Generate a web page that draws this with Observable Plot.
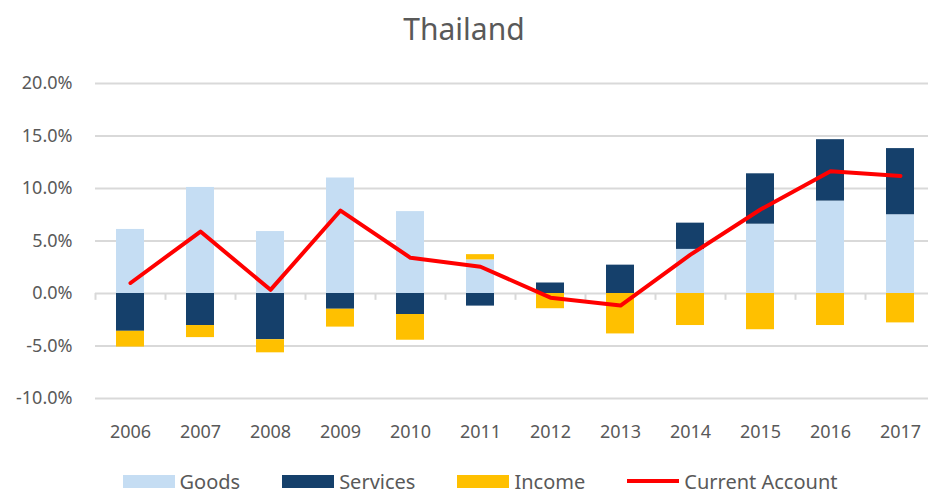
<!DOCTYPE html>
<html>
<head>
<meta charset="utf-8">
<script src="https://cdn.jsdelivr.net/npm/d3@7"></script>
<script src="https://cdn.jsdelivr.net/npm/@observablehq/plot@0.6"></script>
<style>
  body { margin: 0; background: #fff; font-family: "Noto Sans", sans-serif; color: #595959; width: 928px; overflow: hidden; }
  #title { height: 56px; line-height: 58px; text-align: center; font-size: 30px; color: #595959; }
  #legend { display: flex; justify-content: center; align-items: center; padding-left: 32px; padding-top: 10px; height: 30px; font-size: 20px; color: #595959; }
  .item { display: flex; align-items: center; margin: 0 21px; }
  .sw { width: 52px; height: 13px; margin-right: 5px; }
  .ln { width: 52px; height: 4px; margin-right: 5px; background: #ff0000; }
</style>
</head>
<body>
<div id="title">Thailand</div>
<div id="chart"></div>
<div id="legend"></div>
<script>
const years = [2006, 2007, 2008, 2009, 2010, 2011, 2012, 2013, 2014, 2015, 2016, 2017];
const goods = [6.1, 10.1, 5.9, 11.0, 7.8, 3.2, 0.0, 0.0, 4.2, 6.6, 8.8, 7.5];
const services = [-3.6, -3.05, -4.4, -1.5, -2.0, -1.2, 1.0, 2.7, 2.5, 4.8, 5.85, 6.3];
const income = [-1.5, -1.15, -1.25, -1.7, -2.45, 0.5, -1.45, -3.85, -3.05, -3.45, -3.05, -2.8];
const currentAccount = [1.0, 5.9, 0.35, 7.9, 3.4, 2.55, -0.4, -1.15, 3.7, 8.0, 11.65, 11.2];
const yTicks = [-10, -5, 0, 5, 10, 15, 20];
const seriesNames = ["Goods", "Services", "Income"];
const seriesColors = ["#c5ddf3", "#15406b", "#ffc000"];
const lineColor = "#ff0000";

const seriesValues = [goods, services, income];
const bars = [];
years.forEach((yr, i) => {
  seriesNames.forEach((s, k) => bars.push({year: yr, series: s, value: seriesValues[k][i]}));
});
const ca = years.map((yr, i) => ({year: yr, value: currentAccount[i]}));

const plot = Plot.plot({
  width: 928,
  height: 400,
  marginTop: 27,
  marginBottom: 58,
  marginLeft: 95,
  marginRight: 0,
  style: {fontFamily: "Noto Sans, sans-serif", color: "#595959", background: "transparent"},
  x: {type: "band", domain: years, range: [95, 935], paddingInner: 0.6, paddingOuter: 0.3, label: null},
  y: {domain: [-10, 20], label: null},
  color: {domain: seriesNames, range: seriesColors},
  marks: [
    Plot.ruleY(yTicks, {y: d => d, stroke: "#d9d9d9", strokeWidth: 2, strokeOpacity: 1}),
    Plot.barY(bars, Plot.stackY({x: "year", y: "value", fill: "series", order: seriesNames})),
    Plot.ruleX(years, {x: d => d, dx: -35, y1: 0, y2: -0.65, stroke: "#d9d9d9", strokeWidth: 2}),
    Plot.line(ca, {x: "year", y: "value", stroke: lineColor, strokeWidth: 4, strokeLinejoin: "round"}),
    Plot.axisY(yTicks, {tickSize: 0, tickPadding: 23, fontSize: 18, label: null, tickFormat: d => d.toFixed(1) + "%"}),
    Plot.axisX({tickSize: 0, tickPadding: 27, fontSize: 18, label: null, tickFormat: d => String(d)})
  ]
});
document.getElementById("chart").appendChild(plot);

const legend = document.getElementById("legend");
seriesNames.forEach((s, k) => {
  const it = document.createElement("div");
  it.className = "item";
  it.innerHTML = `<div class="sw" style="background:${seriesColors[k]}"></div><span>${s}</span>`;
  legend.appendChild(it);
});
const it = document.createElement("div");
it.className = "item";
it.innerHTML = `<div class="ln"></div><span>Current Account</span>`;
legend.appendChild(it);
</script>
</body>
</html>
